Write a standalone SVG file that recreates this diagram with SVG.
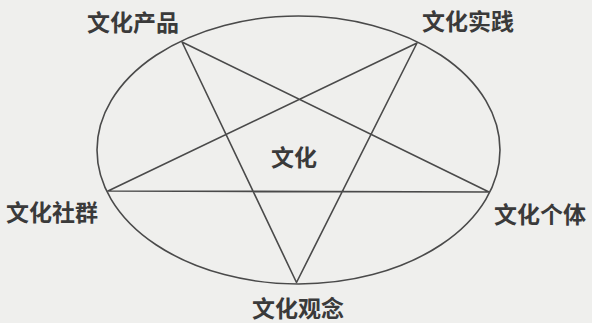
<svg xmlns="http://www.w3.org/2000/svg" width="592" height="323" viewBox="0 0 592 323">
<style>
.bg{fill:#efefed}
.ln{fill:none;stroke:#4a4a4a;stroke-width:1.6;stroke-linejoin:round}
.lb{font-family:"Noto Sans CJK SC","Noto Sans CJK JP",sans-serif;font-size:23px;font-weight:bold;fill:#3a3a3a}
</style>
<rect class="bg" x="0" y="0" width="592" height="323"/>
<g id="frame">
<ellipse class="ln" cx="298.5" cy="150" rx="201.5" ry="134"/>
</g>
<g id="connectors">
<polygon class="ln" points="182,42 296.5,282.5 417,43 108,191 489,192"/>
</g>
<g id="n-product"><text class="lb" x="87" y="31">文化产品</text></g>
<g id="n-practice"><text class="lb" x="422" y="30">文化实践</text></g>
<g id="n-community"><text class="lb" x="6" y="221">文化社群</text></g>
<g id="n-individual"><text class="lb" x="494" y="223">文化个体</text></g>
<g id="n-concept"><text class="lb" x="252" y="317">文化观念</text></g>
<g id="n-culture"><text class="lb" x="271" y="166">文化</text></g>
</svg>
